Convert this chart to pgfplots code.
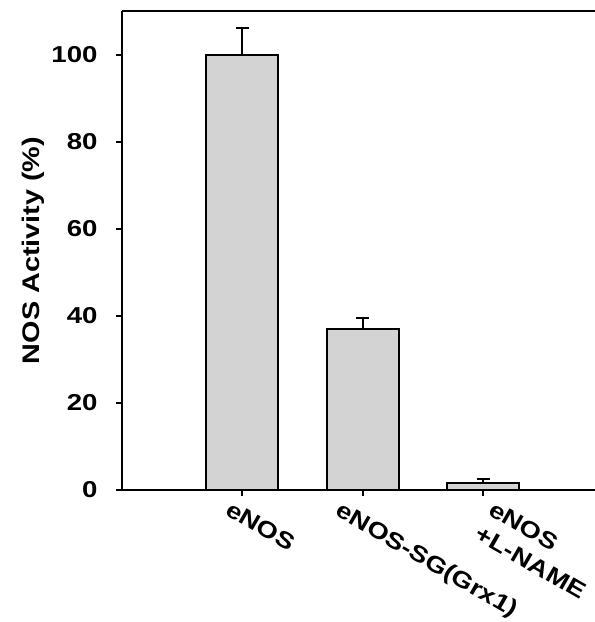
\documentclass[border=0pt]{standalone}
\usepackage{fontspec}
\setmainfont{Liberation Sans}[FakeStretch=1.2]
\usepackage{pgfplots}
\pgfplotsset{compat=1.18}
\definecolor{barfill}{RGB}{211,211,211}
\begin{document}
\begin{tikzpicture}
\begin{axis}[name=ax, scale only axis, width=473pt, height=479pt,
  xmin=-1, xmax=2.93, ymin=0, ymax=110,
  ybar, bar width=72pt,
  axis lines=left, axis line style={-, line width=2.6pt},
  xtick={0,1,2}, xticklabels={}, ytick={0,20,...,100},
  tick align=outside, major tick length=6pt,
  tick style={line width=2pt, black},
  /pgf/number format/assume math mode=true,
  yticklabel style={font=\fontsize{23}{23}\selectfont\bfseries, xshift=-15pt},
  ylabel={NOS Activity (\%)},
  ylabel style={font=\fontsize{24}{24}\selectfont\bfseries},
  clip=false,
]
\addplot[fill=barfill, draw=black, line width=2pt,
  error bars/.cd, y dir=plus, y explicit,
  error bar style={line width=2pt, black},
  error mark options={rotate=90, mark size=6.5pt, line width=2pt, black}]
  coordinates {(0,100) +- (0,6) (1,37) +- (0,2.5) (2,1.5) +- (0,1)};
\draw[line width=2.6pt] (rel axis cs:0,1) -- (rel axis cs:1,1);
\node[anchor=north west, rotate=-30, inner sep=0pt, font=\fontsize{23}{28}\selectfont\bfseries]
  at ([xshift=-10pt, yshift=-10pt]axis cs:0,0) {eNOS};
\node[anchor=north west, rotate=-30, inner sep=0pt, font=\fontsize{23}{28}\selectfont\bfseries]
  at ([xshift=-20pt, yshift=-10pt]axis cs:1,0) {eNOS-SG(Grx1)};
\node[anchor=north west, rotate=-30, inner sep=0pt, align=left, font=\fontsize{23}{28}\selectfont\bfseries]
  at ([xshift=12pt, yshift=-10pt]axis cs:2,0) {eNOS\\+L-NAME};
\end{axis}
\pgfresetboundingbox
\path[use as bounding box] ([shift={(-122pt,-132pt)}]ax.south west) rectangle ([shift={(473pt,490pt)}]ax.south west);
\end{tikzpicture}
\end{document}
